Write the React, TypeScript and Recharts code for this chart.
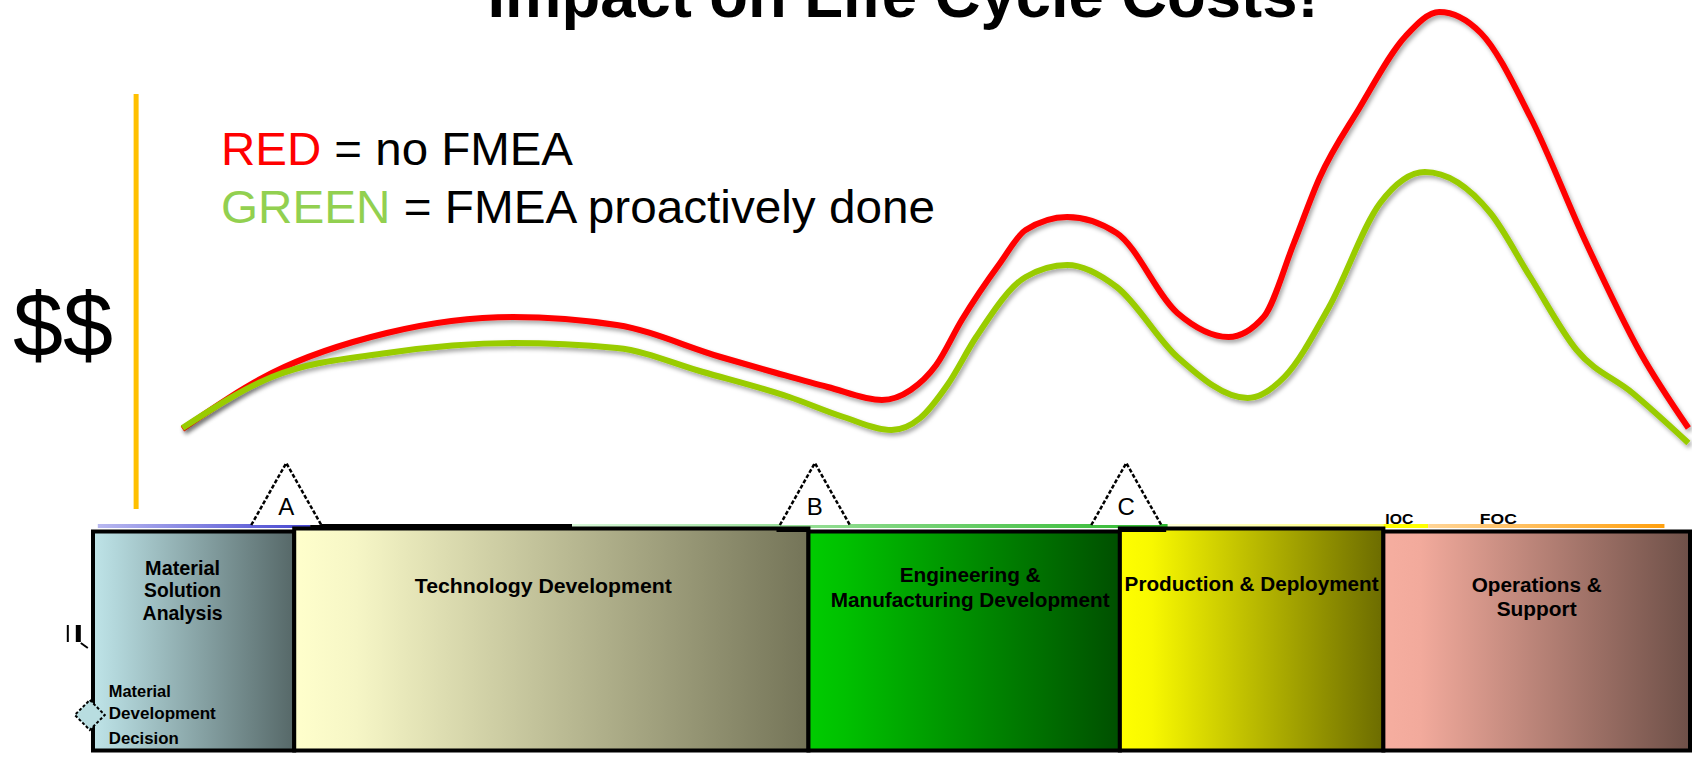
import { ComposedChart, Line, XAxis, YAxis, ReferenceArea, ReferenceDot, ReferenceLine } from 'recharts';

const W = 1692;
const H = 757;
const FONT = 'Liberation Sans, Arial, sans-serif';

// time axis: 0 = start of Material Solution Analysis, 100 = end of Operations & Support
// cost axis: arbitrary $$ units
const redTime = [5.6, 11.2, 18.4, 26.3, 32.8, 39.3, 42.8, 46.0, 49.4, 51.2, 52.8, 54.4, 56.8, 58.4, 61.0, 64.1, 67.9, 71.1, 73.3, 75.2, 76.8, 79.3, 82.2, 84.3, 86.9, 90.0, 93.5, 96.9, 99.9];
const redCost = [19.2, 30.4, 38.4, 41.6, 40.0, 33.6, 30.4, 27.6, 25.0, 27.0, 32.0, 41.0, 52.4, 59.0, 61.6, 58.4, 42.4, 37.6, 41.6, 56.4, 69.4, 83.4, 97.8, 102.6, 98.4, 81.6, 56.4, 34.4, 19.4];

const greenTime = [5.6, 11.2, 18.4, 26.3, 32.8, 38.2, 43.6, 47.0, 50.0, 51.8, 53.5, 55.3, 58.4, 61.0, 64.1, 67.9, 72.3, 74.6, 77.4, 80.6, 83.4, 87.5, 90.0, 92.9, 96.4, 99.9];
const greenCost = [19.4, 29.6, 34.4, 36.4, 35.4, 30.6, 25.6, 21.6, 19.0, 21.4, 28.0, 37.6, 49.6, 52.0, 47.6, 33.6, 25.4, 29.6, 43.6, 64.4, 70.6, 62.4, 49.6, 35.0, 26.4, 16.4];

const phaseLines = [
  ['Material', 'Solution', 'Analysis'],
  ['Technology Development'],
  ['Engineering &', 'Manufacturing Development'],
  ['Production & Deployment'],
  ['Operations &', 'Support'],
];
const phaseStart = [0, 12.6, 44.8, 64.3, 80.8];
const phaseEnd = [12.6, 44.8, 64.3, 80.8, 100];
const phaseTop = [-1.3, -0.7, -1.3, -0.7, -1.3];
const phaseBottom = -45.1;
const phaseColors = [
  ['#bfe4e8', '#b2d6da', '#566868'],
  ['#ffffcc', '#f6f6c6', '#747458'],
  ['#00cc00', '#00c000', '#004f00'],
  ['#ffff00', '#f8f800', '#6c6c00'],
  ['#f6aea0', '#f2aa9c', '#6e5048'],
];
// label layout per phase: horizontal shift, baselines below box top, text widths
const phaseDx = [-11, -8, 6, 0, 0];
const phaseBaselines = [[43.5, 65.5, 88.5], [64.5], [50.5, 75.5], [62.5], [60.5, 84.5]];
const phaseWidths = [[75, 77, 80], [257], [141, 279], [254], [130, 80]];

const milestoneNames = ['A', 'B', 'C'];
const milestoneTime = [12.1, 45.2, 64.7];

const capabilityNames = ['IOC', 'FOC'];
const capabilityTime = [81.8, 88.0];

const stripStart = [0.3, 13.6, 30.0, 67.3, 80.8, 83.6, 42.8, 64.2];
const stripEnd = [13.6, 30.0, 67.3, 80.8, 83.6, 98.4, 44.8, 67.2];
const stripTop = [0.2, 0.2, 0.2, 0.2, 0.2, 0.2, -0.4, -0.4];
const stripBottom = [-0.6, -1.0, -0.6, -0.6, -0.6, -0.6, -1.4, -1.4];
const stripColors = [
  ['#b8b8f0', '#4646d0'],
  ['#000000', '#000000'],
  ['#d6f6d6', '#2eb82e'],
  ['#ffffd8', '#ffff70'],
  ['#ffff00', '#ffff00'],
  ['#ffd496', '#ffa00e'],
  ['#000000', '#000000'],
  ['#000000', '#000000'],
];

const redData = redTime.map((t, i) => ({ t, cost: redCost[i] }));
const greenData = greenTime.map((t, i) => ({ t, cost: greenCost[i] }));

function PhaseLabel(props: any) {
  const { viewBox, index } = props;
  const cx = viewBox.x + viewBox.width / 2 + phaseDx[index];
  return (
    <g>
      {phaseLines[index].map((s, i) => (
        <text
          key={s}
          x={cx}
          y={viewBox.y + phaseBaselines[index][i]}
          textAnchor="middle"
          textLength={phaseWidths[index][i]}
          lengthAdjust="spacingAndGlyphs"
          fontSize={20}
          fontWeight="bold"
          fontFamily={FONT}
          fill="#000"
        >
          {s}
        </text>
      ))}
    </g>
  );
}

const milestoneShape = (name: string) => (p: any) => {
  const { cx, cy } = p;
  return (
    <g>
      <polygon points={`${cx - 35},${cy} ${cx},${cy - 62} ${cx + 35},${cy}`} fill="#fff" />
      <polyline
        points={`${cx - 35},${cy} ${cx},${cy - 62} ${cx + 35},${cy}`}
        fill="none"
        stroke="#000"
        strokeWidth={2.5}
        strokeDasharray="4 2"
      />
      <text x={cx} y={cy - 10} textAnchor="middle" fontSize={24} fontFamily={FONT} fill="#000">
        {name}
      </text>
    </g>
  );
};

const capabilityShape = (name: string, w: number) => (p: any) => (
  <text
    x={p.cx}
    y={p.cy - 1}
    textAnchor="middle"
    textLength={w}
    lengthAdjust="spacingAndGlyphs"
    fontSize={15}
    fontWeight="bold"
    fontFamily={FONT}
    fill="#000"
  >
    {name}
  </text>
);

const decisionShape = (p: any) => {
  const { cx, cy } = p;
  const labels = ['Material', 'Development', 'Decision'];
  const dy = [-18, 4, 29];
  const widths = [62, 107, 70];
  return (
    <g>
      <polygon
        points={`${cx},${cy - 15} ${cx + 15},${cy} ${cx},${cy + 15} ${cx - 15},${cy}`}
        fill="#b8dde0"
        stroke="#000"
        strokeWidth={2}
        strokeDasharray="3 2"
      />
      <rect x={cx - 23} y={cy - 90} width={2} height={17} fill="#000" />
      <rect x={cx - 14} y={cy - 90} width={5} height={17} fill="#000" />
      <line x1={cx - 9} y1={cy - 72} x2={cx - 2} y2={cy - 67} stroke="#000" strokeWidth={2} />
      {labels.map((s, i) => (
        <text
          key={s}
          x={cx + 19}
          y={cy + dy[i]}
          textLength={widths[i]}
          lengthAdjust="spacingAndGlyphs"
          fontSize={17}
          fontWeight="bold"
          fontFamily={FONT}
          fill="#000"
        >
          {s}
        </text>
      ))}
    </g>
  );
};

export default function App() {
  return (
    <div style={{ width: W, height: H, background: '#fff', overflow: 'hidden' }}>
      <style>{'body{margin:0}'}</style>
      <ComposedChart width={W} height={H} margin={{ top: 0, right: 2, bottom: 2, left: 93 }}>
        <defs>
          {phaseColors.map((c, i) => (
            <linearGradient key={`p${i}`} id={`phase${i}`} x1="0" y1="0" x2="1" y2="0">
              <stop offset="0" stopColor={c[0]} />
              <stop offset="0.12" stopColor={c[1]} />
              <stop offset="1" stopColor={c[2]} />
            </linearGradient>
          ))}
          {stripColors.map((c, i) => (
            <linearGradient key={`s${i}`} id={`strip${i}`} x1="0" y1="0" x2="1" y2="0">
              <stop offset="0" stopColor={c[0]} />
              <stop offset="1" stopColor={c[1]} />
            </linearGradient>
          ))}
          <filter id="shadow" x="-5%" y="-10%" width="110%" height="130%">
            <feDropShadow dx="2" dy="3" stdDeviation="2" floodColor="#000" floodOpacity="0.35" />
          </filter>
        </defs>

        <XAxis type="number" dataKey="t" domain={[0, 100]} hide />
        <YAxis type="number" dataKey="cost" domain={[-46, 105]} hide />

        {stripStart.slice(0, 6).map((s, i) => (
          <ReferenceArea
            key={`strip${i}`}
            x1={s}
            x2={stripEnd[i]}
            y1={stripBottom[i]}
            y2={stripTop[i]}
            fill={`url(#strip${i})`}
            fillOpacity={1}
            stroke="none"
          />
        ))}

        {phaseStart.map((s, i) => (
          <ReferenceArea
            key={`phase${i}`}
            x1={s}
            x2={phaseEnd[i]}
            y1={phaseBottom}
            y2={phaseTop[i]}
            fill={`url(#phase${i})`}
            fillOpacity={1}
            stroke="#000"
            strokeWidth={4}
            label={<PhaseLabel index={i} />}
          />
        ))}

        {stripStart.slice(6).map((s, j) => {
          const i = j + 6;
          return (
            <ReferenceArea
              key={`strip${i}`}
              x1={s}
              x2={stripEnd[i]}
              y1={stripBottom[i]}
              y2={stripTop[i]}
              fill="#000"
              fillOpacity={1}
              stroke="none"
            />
          );
        })}

        <ReferenceLine
          segment={[{ x: 2.7, y: 3.2 }, { x: 2.7, y: 86.2 }]}
          stroke="#ffc000"
          strokeWidth={5}
          ifOverflow="visible"
        />

        {milestoneNames.map((m, i) => (
          <ReferenceDot key={m} x={milestoneTime[i]} y={0} r={1} shape={milestoneShape(m)} ifOverflow="visible" />
        ))}

        {capabilityNames.map((c, i) => (
          <ReferenceDot key={c} x={capabilityTime[i]} y={0} r={1} shape={capabilityShape(c, i === 0 ? 28 : 37)} ifOverflow="visible" />
        ))}

        <ReferenceDot x={-0.2} y={-38} r={1} shape={decisionShape} ifOverflow="visible" />

        <Line
          data={redData}
          dataKey="cost"
          type="monotone"
          stroke="#ff0000"
          strokeWidth={6}
          dot={false}
          activeDot={false}
          filter="url(#shadow)"
          isAnimationActive={false}
        />
        <Line
          data={greenData}
          dataKey="cost"
          type="monotone"
          stroke="#99cc00"
          strokeWidth={6}
          dot={false}
          activeDot={false}
          filter="url(#shadow)"
          isAnimationActive={false}
        />

        <text
          x={903}
          y={17}
          textAnchor="middle"
          textLength={831}
          lengthAdjust="spacingAndGlyphs"
          fontSize={63}
          fontWeight="bold"
          fontFamily={FONT}
          fill="#000"
        >
          Impact on Life Cycle Costs!
        </text>
        <text x={221} y={165} fontSize={46} fontFamily={FONT} fill="#000" textLength={352} lengthAdjust="spacingAndGlyphs">
          <tspan fill="#ff0000">RED</tspan> = no FMEA
        </text>
        <text x={221} y={223} fontSize={46} fontFamily={FONT} fill="#000" textLength={714} lengthAdjust="spacingAndGlyphs">
          <tspan fill="#92d050">GREEN</tspan> = FMEA proactively done
        </text>
        <text x={13} y={356} fontSize={90} fontFamily={FONT} fill="#000">
          $$
        </text>
      </ComposedChart>
    </div>
  );
}
